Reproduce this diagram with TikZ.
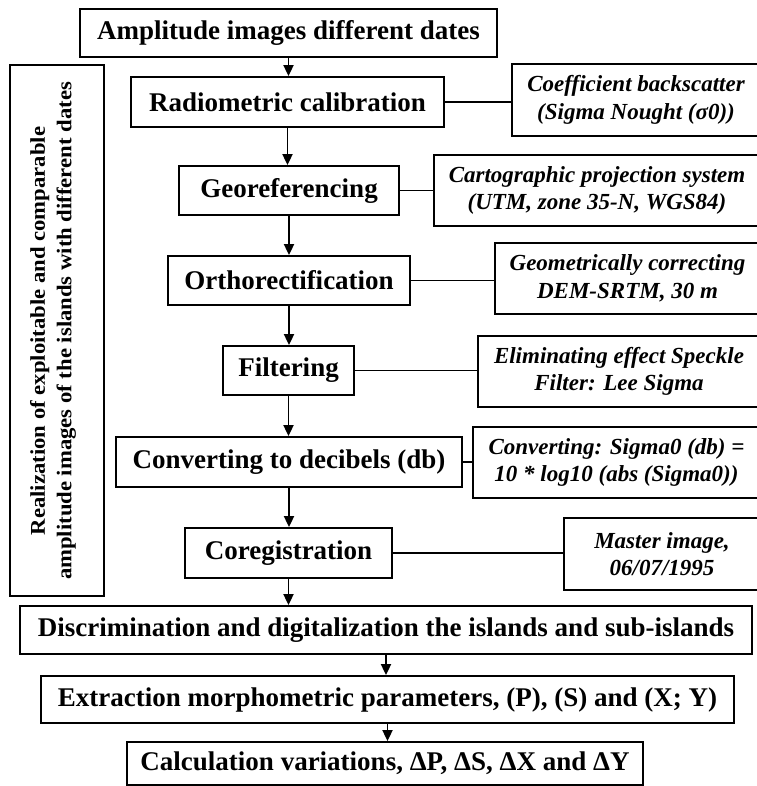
\documentclass[tikz,border=0pt]{standalone}
\usepackage{fontspec}
\setmainfont{Liberation Serif}
\newfontfamily\sidefont{Liberation Serif}[FakeStretch=1.08]
\usetikzlibrary{arrows.meta}
\begin{document}
\begin{tikzpicture}[x=1pt,y=-1pt,
  box/.style={draw, line width=1.8pt, inner sep=0pt, font=\fontsize{27}{30}\selectfont\bfseries},
  note/.style={draw, line width=1.8pt, inner sep=0pt, align=center, font=\fontsize{23}{27.5}\selectfont\bfseries\itshape},
  arr/.style={line width=1.8pt, -{Triangle[length=11pt,width=10pt]}},
  link/.style={line width=1.8pt}]
\useasboundingbox (0,0) rectangle (756,786);
\fill[white] (0,0) rectangle (756,786);

\node[box, minimum width=417pt, minimum height=48pt] (b1) at (288.5,33) {Amplitude images different dates};

\node[draw, line width=1.8pt, minimum width=94pt, minimum height=531pt, inner sep=0pt] (side) at (57,330.5) {};
\node[rotate=90, align=center, inner sep=0pt, font=\sidefont\fontsize{21}{26.5}\selectfont\bfseries] (sidetext) at (53,331)
  {Realization of exploitable and comparable\\amplitude images of the islands with different dates};

\node[box, minimum width=313pt, minimum height=50pt] (radio) at (287.5,102) {Radiometric calibration};
\node[note, minimum width=248pt, minimum height=72pt] (coef) at (636,100) {Coefficient backscatter\\(Sigma Nought (σ0))};

\node[box, minimum width=220pt, minimum height=49pt] (geo) at (289,190.5) {Georeferencing};
\node[note, minimum width=326pt, minimum height=71pt] (carto) at (597,190.5) {Cartographic projection system\\(UTM, zone 35-N, WGS84)};

\node[box, minimum width=242pt, minimum height=49pt] (ortho) at (289,280.5) {Orthorectification};
\node[note, minimum width=265pt, minimum height=71pt] (geom) at (627.5,278.5) {Geometrically correcting\\DEM-SRTM, 30 m};

\node[box, minimum width=131pt, minimum height=49pt] (filt) at (288.5,370.5) {Filtering};
\node[note, minimum width=282pt, minimum height=71pt] (elim) at (619,371.5) {Eliminating effect Speckle\\Filter: Lee Sigma};

\node[box, minimum width=346pt, minimum height=50pt] (conv) at (289,462) {Converting to decibels (db)};
\node[note, minimum width=287pt, minimum height=71pt] (form) at (616.5,462.5) {Converting: Sigma0 (db) =\\10 * log10 (abs (Sigma0))};

\node[box, minimum width=207pt, minimum height=50pt] (coreg) at (288.5,553) {Coregistration};
\node[note, minimum width=196pt, minimum height=72pt] (master) at (662,554) {Master image,\\06/07/1995};

\node[box, minimum width=732pt, minimum height=48pt] (disc) at (386,630) {Discrimination and digitalization the islands and sub-islands};
\node[box, minimum width=693pt, minimum height=47pt] (extr) at (387.5,699.5) {Extraction morphometric parameters, (P), (S) and (X; Y)};
\node[box, minimum width=516pt, minimum height=43pt] (calc) at (385,763.5) {Calculation variations, ΔP, ΔS, ΔX and ΔY};

\draw[arr] (b1.south) -- (b1.south |- radio.north);
\draw[arr] (radio.south) -- (radio.south |- geo.north);
\draw[arr] (geo.south) -- (geo.south |- ortho.north);
\draw[arr] (ortho.south) -- (ortho.south |- filt.north);
\draw[arr] (filt.south) -- (filt.south |- conv.north);
\draw[arr] (conv.south) -- (conv.south |- coreg.north);
\draw[arr] (coreg.south) -- (coreg.south |- disc.north);
\draw[arr] (disc.south) -- (disc.south |- extr.north);
\draw[arr] (extr.south) -- (extr.south |- calc.north);

\draw[link] (radio.east) -- (radio.east -| coef.west);
\draw[link] (geo.east) -- (geo.east -| carto.west);
\draw[link] (ortho.east) -- (ortho.east -| geom.west);
\draw[link] (filt.east) -- (filt.east -| elim.west);
\draw[link] (conv.east) -- (conv.east -| form.west);
\draw[link] (coreg.east) -- (coreg.east -| master.west);
\end{tikzpicture}
\end{document}
